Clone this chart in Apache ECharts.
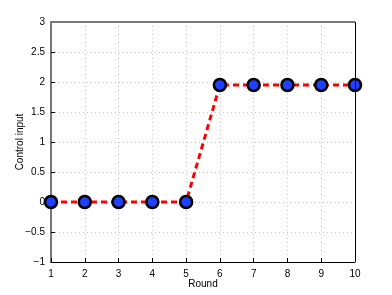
<!DOCTYPE html>
<html><head><meta charset="utf-8">
<script src="https://cdn.jsdelivr.net/npm/echarts@6/dist/echarts.min.js"></script>
<style>html,body{margin:0;padding:0;background:#fff}#c{width:392px;height:295px}</style>
</head><body><div id="c"></div>
<script>
var rounds = [1, 2, 3, 4, 5, 6, 7, 8, 9, 10];
var controlInput = [0, 0, 0, 0, 0, 1.95, 1.95, 1.95, 1.95, 1.95];
var xLabel = 'Round';
var yLabel = 'Control input';

var chart = echarts.init(document.getElementById('c'), null, {renderer: 'canvas'});
var font = 'Liberation Sans, Arial, Helvetica, sans-serif';
var data = rounds.map(function (r, i) { return [r, controlInput[i]]; });
chart.setOption({
  animation: false,
  backgroundColor: '#fff',
  grid: {left: 51, right: 37, top: 22, bottom: 33, show: false, containLabel: false, outerBoundsMode: 'none'},
  xAxis: {
    type: 'value', min: 1, max: 10, interval: 1,
    name: xLabel, nameLocation: 'middle', nameGap: 17, nameMoveOverlap: false,
    nameTextStyle: {fontFamily: font, fontSize: 10, color: '#000'},
    axisLine: {show: true, onZero: false, lineStyle: {color: '#000', width: 1}},
    axisTick: {show: true, inside: true, length: 4, lineStyle: {color: '#000'}},
    axisLabel: {fontFamily: font, fontSize: 10, color: '#000', margin: 7},
    splitLine: {show: true, lineStyle: {color: '#c4c4c4', type: [1, 3], width: 1}}
  },
  yAxis: {
    type: 'value', min: -1, max: 3, interval: 0.5,
    name: yLabel, nameLocation: 'middle', nameGap: 26, nameMoveOverlap: false,
    nameTextStyle: {fontFamily: font, fontSize: 10, color: '#000'},
    axisLine: {show: true, onZero: false, lineStyle: {color: '#777', width: 2}},
    axisTick: {show: true, inside: true, length: 4, lineStyle: {color: '#000'}},
    axisLabel: {fontFamily: font, fontSize: 10, color: '#000', margin: 6,
      formatter: function (v) { return String(v).replace('-', '\u2212'); }},
    splitLine: {show: true, lineStyle: {color: '#c4c4c4', type: [1, 3], width: 1}}
  },
  series: [
    {
      type: 'line', data: data, silent: true,
      lineStyle: {color: '#ff0000', width: 3, type: [6, 4]},
      symbol: 'circle', symbolSize: 12,
      itemStyle: {color: '#2040ff', borderColor: '#000', borderWidth: 2.5},
      z: 3
    },
    {
      type: 'line', data: [], silent: true,
      markLine: {
        silent: true, symbol: 'none', animation: false,
        label: {show: false},
        data: [
          [{coord: [1, 3], lineStyle: {color: '#777', width: 2, type: 'solid'}}, {coord: [10, 3]}],
          [{coord: [10, -1], lineStyle: {color: '#000', width: 1, type: 'solid'}}, {coord: [10, 3]}]
        ]
      }
    }
  ]
});
</script></body></html>
